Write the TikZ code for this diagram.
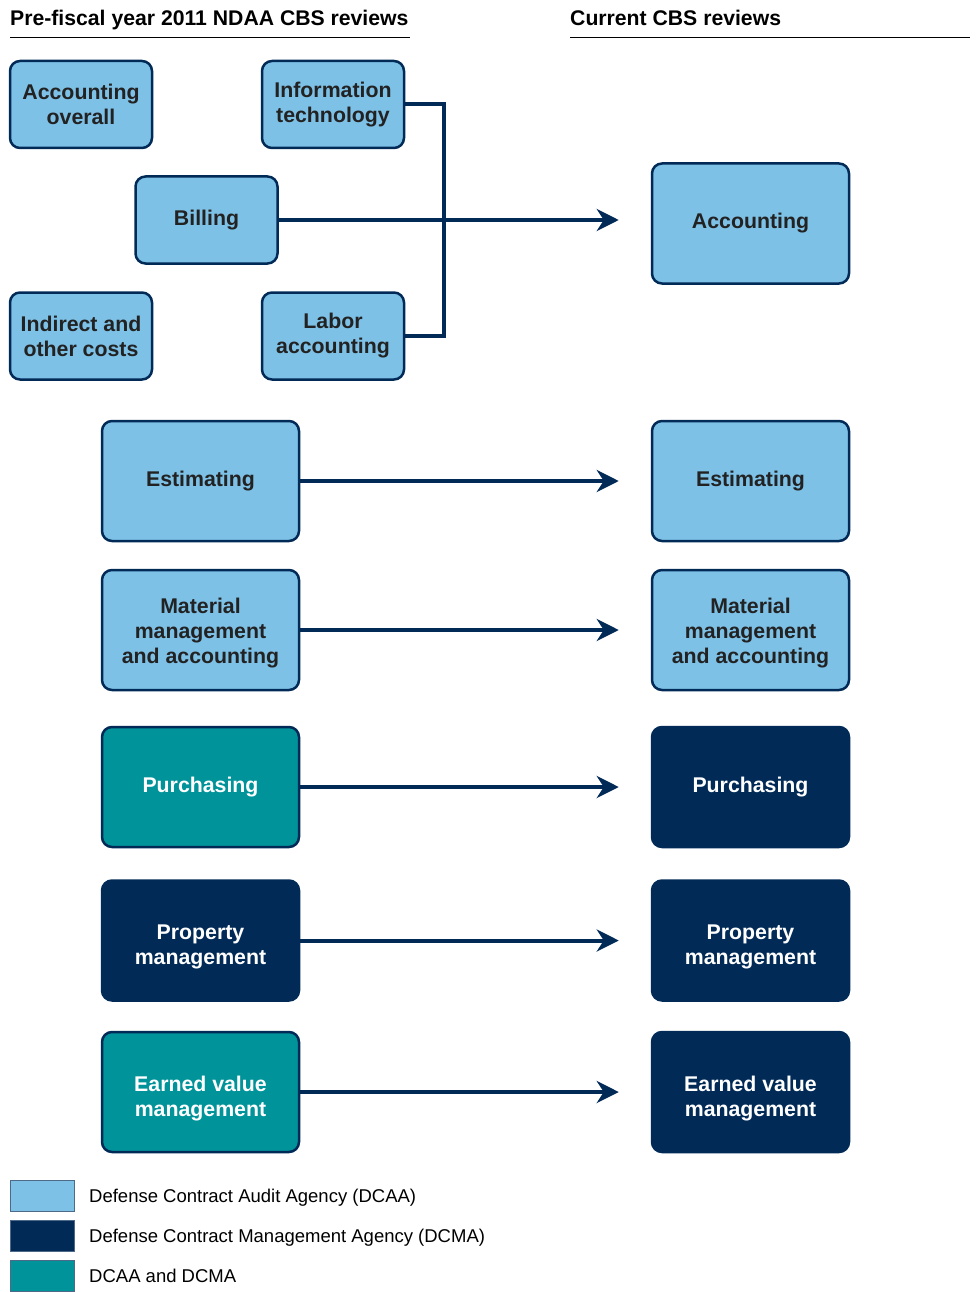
\documentclass[tikz,border=0pt]{standalone}
\usepackage{fontspec}
\setmainfont{Liberation Sans}
\usepackage{tikz}
\usetikzlibrary{arrows.meta,positioning}
\definecolor{dcaaBlue}{HTML}{7DC1E7}
\definecolor{dcmaNavy}{HTML}{012A57}
\definecolor{jointTeal}{HTML}{00939A}
\definecolor{boxText}{HTML}{222222}
% invisible strut on the first line, pushes the label down a little
\newcommand{\textDrop}[1]{\rule{0pt}{#1}}
\begin{document}
\begin{tikzpicture}[x=1pt,y=-1pt,
	review/.style={draw=dcmaNavy,line width=2.5pt,rounded corners=10pt,align=center,inner sep=0pt,
		font=\fontsize{21.3}{25}\selectfont\bfseries},
	dcaa/.style={review,fill=dcaaBlue,text=boxText},
	dcma/.style={review,fill=dcmaNavy,text=white},
	both/.style={review,fill=jointTeal,text=white},
	small/.style={minimum width=142pt,minimum height=87pt},
	big/.style={minimum width=197pt,minimum height=120pt},
	flow/.style={draw=dcmaNavy,line width=4pt,shorten >=32pt,-{Stealth[length=22pt,width=22pt,inset=7pt]}},
	heading/.style={anchor=base west,inner sep=0pt,font=\fontsize{21.2}{25}\selectfont\bfseries,text=black},
	swatch/.style={draw=dcmaNavy!70,line width=1pt,minimum width=64pt,minimum height=31pt,inner sep=0pt},
	legendtext/.style={anchor=base west,inner sep=0pt,font=\fontsize{18.5}{22}\selectfont,text=black}]
\useasboundingbox (0,0) rectangle (975,1292);

% column headings
\node[heading] (pre) at (10,26) {Pre-fiscal year 2011 NDAA CBS reviews};
\node[heading] (cur) at (570,26) {Current CBS reviews};
\draw[line width=1pt] (10,38) -- (410,38);
\draw[line width=1pt] (570,38) -- (970,38);

% old accounting reviews
\node[dcaa,small] (acctOverall) at (81,104.5) {Accounting\\overall};
\node[dcaa,small] (infoTech) at (333,104.5) {Information\\technology};
\node[dcaa,small] (billing) at (206.5,220) {Billing};
\node[dcaa,small] (indirect) at (81,336) {Indirect and\\other costs};
\node[dcaa,small] (labor) at (333,336) {Labor\\accounting};
\node[dcaa,big] (accounting) at (750.5,223.5) {Accounting};

% rows
\node[dcaa,big] (est-l) at (200.5,481) {Estimating};
\node[dcaa,big] (est-r) at (750.5,481) {Estimating};
\node[dcaa,big] (mat-l) at (200.5,630) {\textDrop{22pt}Material\\management\\and accounting};
\node[dcaa,big] (mat-r) at (750.5,630) {\textDrop{22pt}Material\\management\\and accounting};
\node[both,big] (pur-l) at (200.5,787) {Purchasing};
\node[dcma,big] (pur-r) at (750.5,787) {Purchasing};
\node[dcma,big] (prop-l) at (200.5,940.5) {\textDrop{27.5pt}Property\\management};
\node[dcma,big] (prop-r) at (750.5,940.5) {\textDrop{27.5pt}Property\\management};
\node[both,big] (evm-l) at (200.5,1092) {\textDrop{27.5pt}Earned value\\management};
\node[dcma,big] (evm-r) at (750.5,1092) {\textDrop{27.5pt}Earned value\\management};

% connectors
\draw[draw=dcmaNavy,line width=4pt] (infoTech.east) -- ++(39,0) |- (labor.east);
\draw[flow] (billing.east) -- (billing.east -| accounting.west);
\foreach \n in {est,mat,pur,prop,evm}
	\draw[flow] (\n-l.east) -- (\n-r.west);

% legend
\node[swatch,fill=dcaaBlue] (key-dcaa) at (42,1195.5) {};
\node[swatch,fill=dcmaNavy] (key-dcma) at (42,1235.5) {};
\node[swatch,fill=jointTeal] (key-both) at (42,1275.5) {};
\node[legendtext] (lbl-dcaa) at (89,1202.5) {Defense Contract Audit Agency (DCAA)};
\node[legendtext] (lbl-dcma) at (89,1242.5) {Defense Contract Management Agency (DCMA)};
\node[legendtext] (lbl-both) at (89,1282.5) {DCAA and DCMA};
\end{tikzpicture}
\end{document}
